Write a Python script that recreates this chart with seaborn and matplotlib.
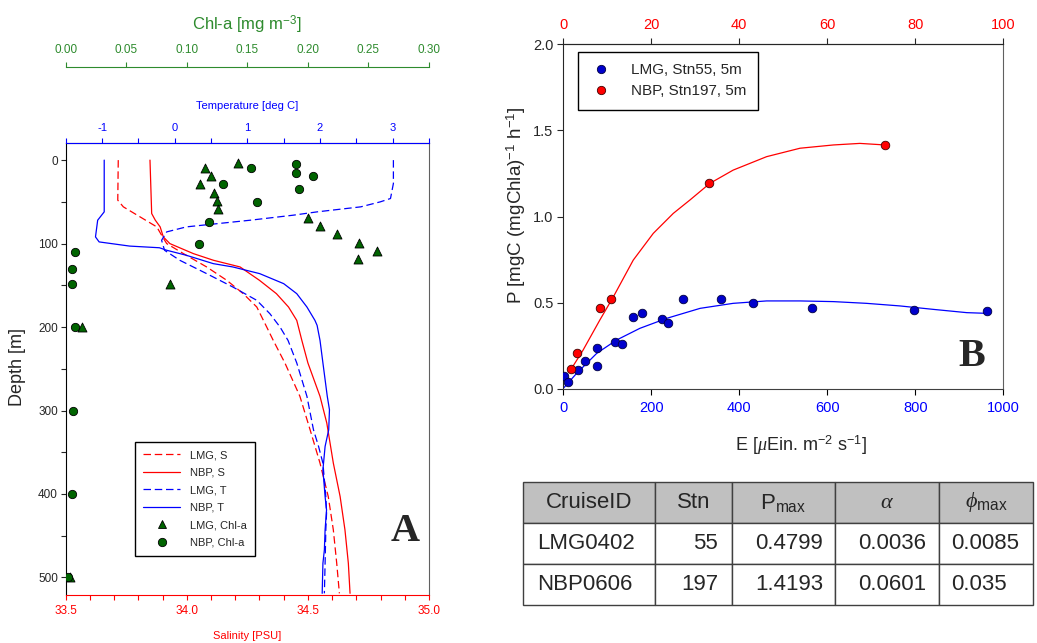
import matplotlib
matplotlib.use("Agg")
import matplotlib.pyplot as plt
import seaborn as sns
from matplotlib.ticker import MultipleLocator, FormatStrFormatter
from matplotlib.lines import Line2D
from matplotlib.patches import Rectangle

# ---------------- Panel A data ----------------
LMG_S_depth = [0, 48, 56, 68, 80, 92, 100, 112, 128, 144, 160, 176, 200, 216, 243, 283, 323, 363, 403, 443, 483, 519]
LMG_S = [33.717, 33.715, 33.738, 33.807, 33.876, 33.900, 33.917, 33.986, 34.082, 34.165, 34.233, 34.289,
         34.330, 34.357, 34.405, 34.467, 34.509, 34.550, 34.584, 34.605, 34.619, 34.630]
NBP_S_depth = [0, 64, 72, 80, 92, 100, 112, 120, 128, 144, 160, 176, 192, 216, 243, 283, 315, 363, 403, 443, 483, 519]
NBP_S = [33.848, 33.855, 33.870, 33.890, 33.903, 33.930, 34.027, 34.110, 34.220, 34.300, 34.370, 34.420,
         34.454, 34.475, 34.500, 34.550, 34.578, 34.605, 34.633, 34.653, 34.667, 34.674]
LMG_T_depth = [0, 28, 46, 50, 56, 62, 66, 72, 80, 86, 96, 108, 120, 136, 152, 168, 184, 200, 216, 243,
               283, 323, 343, 363, 383, 403, 423, 443, 483, 519]
LMG_T = [3.01, 3.01, 2.97, 2.83, 2.56, 1.96, 1.63, 1.04, 0.16, -0.11, -0.18, -0.14, 0.07, 0.44, 0.80, 1.13,
         1.31, 1.45, 1.56, 1.68, 1.82, 1.91, 1.98, 2.04, 2.06, 2.08, 2.09, 2.08, 2.07, 2.06]
NBP_T_depth = [0, 62, 72, 92, 98, 103, 105, 108, 114, 124, 128, 136, 148, 160, 176, 192, 198, 216, 243,
               283, 299, 323, 343, 371, 403, 419, 443, 467, 483, 519]
NBP_T = [-0.97, -0.97, -1.06, -1.09, -1.04, -0.62, -0.21, -0.11, 0.16, 0.53, 0.80, 1.17, 1.50, 1.68, 1.82,
         1.93, 1.96, 2.00, 2.04, 2.10, 2.13, 2.12, 2.07, 2.04, 2.07, 2.09, 2.07, 2.06, 2.04, 2.03]
LMG_chl_depth = [4, 10, 19, 29, 39, 49, 59, 69, 79, 89, 99, 109, 119, 149, 200, 499]
LMG_chl = [0.1425, 0.115, 0.120, 0.111, 0.1225, 0.1247, 0.126, 0.2003, 0.210, 0.2238, 0.2425, 0.257,
           0.241, 0.086, 0.0132, 0.0036]
NBP_chl_depth = [5, 10, 15, 19, 29, 35, 50, 74, 100, 110, 130, 149, 200, 300, 400, 499]
NBP_chl = [0.190, 0.153, 0.190, 0.204, 0.1296, 0.193, 0.158, 0.118, 0.110, 0.0077, 0.005, 0.005,
           0.0077, 0.0058, 0.005, 0.002]

# ---------------- Panel B data ----------------
LMG_E = [2.3, 11.4, 32.7, 49.3, 75.8, 77.3, 117.5, 132.7, 157.6, 179.5, 223.6, 238.7, 271.3, 358.4,
         431.8, 566.0, 797.7, 963.6]
LMG_P = [0.077, 0.039, 0.110, 0.162, 0.240, 0.135, 0.271, 0.261, 0.420, 0.439, 0.406, 0.385, 0.520,
         0.522, 0.497, 0.468, 0.458, 0.454]
LMG_fit_E = [0, 30, 76, 121, 174, 235, 311, 386, 462, 538, 614, 689, 765, 841, 917, 962]
LMG_fit_P = [0.004, 0.090, 0.207, 0.284, 0.352, 0.410, 0.468, 0.497, 0.511, 0.511, 0.507, 0.497,
             0.482, 0.462, 0.443, 0.439]
NBP_E = [1.75, 3.03, 8.34, 10.9, 33.2, 73.1]
NBP_P = [0.116, 0.207, 0.472, 0.520, 1.193, 1.416]
NBP_fit_E = [1.9, 4.5, 8.3, 11.4, 15.9, 20.45, 25.0, 28.8, 33.3, 38.6, 46.2, 53.8, 61.4, 67.4, 73.1]
NBP_fit_P = [0.120, 0.226, 0.400, 0.536, 0.748, 0.903, 1.019, 1.097, 1.193, 1.270, 1.348, 1.397,
             1.416, 1.425, 1.416]

# ---------------- Table data ----------------
table_header = ["CruiseID", "Stn", r"P$_{\mathrm{max}}$", r"$\alpha$", r"$\phi_{\mathrm{max}}$"]
table_rows = [["LMG0402", "55", "0.4799", "0.0036", "0.0085"],
              ["NBP0606", "197", "1.4193", "0.0601", "0.035"]]

sns.set_style("ticks")
plt.rcParams['font.family'] = ['Liberation Sans', 'DejaVu Sans']
plt.rcParams['mathtext.fontset'] = 'custom'
plt.rcParams['mathtext.rm'] = 'Liberation Sans'
plt.rcParams['mathtext.it'] = 'Liberation Serif:italic'
plt.rcParams['mathtext.bf'] = 'Liberation Sans:bold'
plt.rcParams['axes.unicode_minus'] = False

RED = '#ff0000'
BLUE = '#0000ff'
GREEN = '#2e8b2e'
DKGREEN = '#006400'
W, H = 1037, 643

fig = plt.figure(figsize=(W / 100, H / 100), dpi=100)

# =============== Panel A ===============
axA = fig.add_axes([65.7 / W, 1 - 595 / H, (429 - 65.7) / W, (595 - 143) / H])
dash = (0, (6, 3))
sns.lineplot(x=LMG_S, y=LMG_S_depth, sort=False, estimator=None, ax=axA, color=RED, lw=0.9, linestyle=dash)
sns.lineplot(x=NBP_S, y=NBP_S_depth, sort=False, estimator=None, ax=axA, color=RED, lw=0.9)
axA.set_xlim(33.5, 35.0)
axA.set_ylim(521, -20.5)
axA.xaxis.set_major_locator(MultipleLocator(0.5))
axA.xaxis.set_minor_locator(MultipleLocator(0.1))
axA.xaxis.set_major_formatter(FormatStrFormatter('%.1f'))
axA.yaxis.set_major_locator(MultipleLocator(100))
axA.yaxis.set_minor_locator(MultipleLocator(50))
axA.tick_params(axis='x', which='major', colors=RED, labelsize=8.5, length=3.5, width=0.8, pad=4)
axA.tick_params(axis='x', which='minor', colors=RED, length=3.5, width=0.8)
axA.tick_params(axis='y', which='major', labelsize=8.5, length=3.5, width=0.8, pad=2)
axA.tick_params(axis='y', which='minor', length=3.5, width=0.8)
axA.spines['bottom'].set_color(RED)
axA.spines['left'].set_color('black')
axA.spines['right'].set_color('#606060')
axA.set_xlabel("Salinity [PSU]", color=RED, fontsize=8)
axA.xaxis.set_label_coords((247 - 65.7) / 363.3, -(636 - 595) / 452)
axA.xaxis.label.set_va('center')
axA.set_ylabel("Depth [m]", fontsize=13)
axA.yaxis.set_label_coords((18 - 65.7) / 363.3, (595 - 367) / 452)
axA.yaxis.label.set_va('center')

axT = axA.twiny()
sns.lineplot(x=LMG_T, y=LMG_T_depth, sort=False, estimator=None, ax=axT, color=BLUE, lw=0.9, linestyle=dash)
sns.lineplot(x=NBP_T, y=NBP_T_depth, sort=False, estimator=None, ax=axT, color=BLUE, lw=0.9)
axT.set_xlim(-1.5, 3.5)
axT.set_ylim(521, -20.5)
axT.xaxis.set_major_locator(MultipleLocator(1))
axT.xaxis.set_minor_locator(MultipleLocator(0.5))
axT.tick_params(axis='x', which='major', colors=BLUE, labelsize=8, length=3.5, width=0.8, pad=4)
axT.tick_params(axis='x', which='minor', colors=BLUE, length=3.5, width=0.8)
for s in ['left', 'right', 'bottom']:
    axT.spines[s].set_visible(False)
axT.spines['top'].set_color(BLUE)
axT.set_xlabel("Temperature [deg C]", color=BLUE, fontsize=8, labelpad=10)
axT.set_ylabel("")

axC = axA.twiny()
sns.scatterplot(x=LMG_chl, y=LMG_chl_depth, ax=axC, marker='^', s=42, color=DKGREEN, edgecolor='black',
                linewidth=0.6, zorder=5)
sns.scatterplot(x=NBP_chl, y=NBP_chl_depth, ax=axC, marker='o', s=36, color=DKGREEN, edgecolor='black',
                linewidth=0.6, zorder=5)
axC.set_xlim(0, 0.30)
axC.set_ylim(521, -20.5)
axC.spines['top'].set_position(('outward', 55))
for s in ['left', 'right', 'bottom']:
    axC.spines[s].set_visible(False)
axC.spines['top'].set_color(GREEN)
axC.xaxis.set_major_locator(MultipleLocator(0.05))
axC.xaxis.set_major_formatter(FormatStrFormatter('%.2f'))
axC.tick_params(axis='x', which='both', colors=GREEN, labelsize=8.5, length=3.5, width=0.8, pad=4)
axC.set_xlabel("Chl-a [mg m$^{-3}$]", color=GREEN, fontsize=12, labelpad=10)
axC.set_ylabel("")

handlesA = [
    Line2D([], [], color=RED, lw=0.9, linestyle=dash, label="LMG, S"),
    Line2D([], [], color=RED, lw=0.9, label="NBP, S"),
    Line2D([], [], color=BLUE, lw=0.9, linestyle=dash, label="LMG, T"),
    Line2D([], [], color=BLUE, lw=0.9, label="NBP, T"),
    Line2D([], [], color=DKGREEN, marker='^', ms=6, mec='black', mew=0.6, lw=0, label="LMG, Chl-a"),
    Line2D([], [], color=DKGREEN, marker='o', ms=6, mec='black', mew=0.6, lw=0, label="NBP, Chl-a"),
]
legA = axC.legend(handles=handlesA, loc='upper left', bbox_to_anchor=(135 / W, 1 - 441.7 / H),
                  bbox_transform=fig.transFigure, fontsize=8, frameon=True, fancybox=False,
                  edgecolor='black', framealpha=1, handlelength=3.3, handletextpad=0.9,
                  labelspacing=0.68, borderpad=0.75, borderaxespad=0)
legA.get_frame().set_linewidth(1.0)

fig.text(405 / W, 1 - 531.7 / H, "A", fontfamily='Liberation Serif', fontweight='bold', fontsize=29,
         ha='center', va='center')

# =============== Panel B ===============
axB = fig.add_axes([563.3 / W, 1 - 389 / H, (1003.3 - 563.3) / W, (389 - 44.3) / H])
sns.lineplot(x=LMG_fit_E, y=LMG_fit_P, sort=False, estimator=None, ax=axB, color=BLUE, lw=0.9)
sns.scatterplot(x=LMG_E, y=LMG_P, ax=axB, marker='o', s=38, color='#0000cc', edgecolor='#000040',
                linewidth=0.6, zorder=5)
axB.set_xlim(0, 1000)
axB.set_ylim(0, 2.0)
axB.xaxis.set_major_locator(MultipleLocator(200))
axB.yaxis.set_major_locator(MultipleLocator(0.5))
axB.yaxis.set_major_formatter(FormatStrFormatter('%.1f'))
axB.tick_params(axis='x', labelcolor=BLUE, color='black', labelsize=10.5, length=4, width=0.8, pad=5)
axB.tick_params(axis='y', labelsize=10.5, length=4, width=0.8, pad=3)
axB.spines['right'].set_color('#606060')
axB.spines['bottom'].set_color('#404040')
axB.set_xlabel(r"E [$\mu$Ein. m$^{-2}$ s$^{-1}$]", fontsize=13)
axB.xaxis.set_label_coords((801 - 563.3) / 440, -(445 - 389) / 344.7)
axB.xaxis.label.set_va('center')
axB.set_ylabel(r"P [mgC (mgChla)$^{-1}$ h$^{-1}$]", fontsize=13.5)
axB.yaxis.set_label_coords((516 - 563.3) / 440, (389 - 205) / 344.7)
axB.yaxis.label.set_va('center')

axB2 = axB.twiny()
sns.lineplot(x=NBP_fit_E, y=NBP_fit_P, sort=False, estimator=None, ax=axB2, color=RED, lw=0.9)
sns.scatterplot(x=NBP_E, y=NBP_P, ax=axB2, marker='o', s=38, color=RED, edgecolor='#400000',
                linewidth=0.6, zorder=5)
axB2.set_xlim(0, 100)
axB2.set_ylim(0, 2.0)
axB2.xaxis.set_major_locator(MultipleLocator(20))
axB2.tick_params(axis='x', labelcolor=RED, labelsize=10.5, length=4, width=0.8, pad=5)
for s in ['left', 'right', 'bottom']:
    axB2.spines[s].set_visible(False)
axB2.set_xlabel("")
axB2.set_ylabel("")

handlesB = [
    Line2D([], [], color='#0000cc', marker='o', ms=6, mec='#000040', mew=0.6, lw=0, label="LMG, Stn55, 5m"),
    Line2D([], [], color=RED, marker='o', ms=6, mec='#400000', mew=0.6, lw=0, label="NBP, Stn197, 5m"),
]
legB = axB2.legend(handles=handlesB, loc='upper left', bbox_to_anchor=(578 / W, 1 - 52 / H),
                   bbox_transform=fig.transFigure, fontsize=11, frameon=True, fancybox=False,
                   edgecolor='black', framealpha=1, handlelength=1.5, handletextpad=1.2,
                   labelspacing=0.45, borderpad=0.75, borderaxespad=0)
legB.get_frame().set_linewidth(1.0)

fig.text(971.7 / W, 1 - 356 / H, "B", fontfamily='Liberation Serif', fontweight='bold', fontsize=29,
         ha='center', va='center')

# =============== Table ===============
col_edges = [0, 131.7, 208.4, 311.7, 416.0, 510.0]
row_edges = [122.7, 82.3, 40.7, 0.0]   # top of header, header/row1, row1/row2, bottom
axTab = fig.add_axes([523.3 / W, 1 - 605 / H, 510 / W, 122.7 / H])
axTab.set_xlim(0, 510)
axTab.set_ylim(0, 122.7)
axTab.axis('off')
for j in range(5):
    axTab.add_patch(Rectangle((col_edges[j], row_edges[1]), col_edges[j + 1] - col_edges[j],
                              row_edges[0] - row_edges[1], facecolor='#c0c0c0', edgecolor='#404040',
                              lw=1.0, clip_on=False))
    axTab.text((col_edges[j] + col_edges[j + 1]) / 2, (row_edges[0] + row_edges[1]) / 2, table_header[j],
               ha='center', va='center', fontsize=16)
row_align = ['left', 'right', 'right', 'right', 'left']
row_x = [13.4, 195.0, 300.0, 402.7, 427.7]
for i, row in enumerate(table_rows):
    top, bot = row_edges[i + 1], row_edges[i + 2]
    for j in range(5):
        axTab.add_patch(Rectangle((col_edges[j], bot), col_edges[j + 1] - col_edges[j], top - bot,
                                  facecolor='white', edgecolor='#404040', lw=1.0, clip_on=False))
        axTab.text(row_x[j], (top + bot) / 2, row[j], ha=row_align[j], va='center', fontsize=16)

fig.savefig("out.png", dpi=100)
